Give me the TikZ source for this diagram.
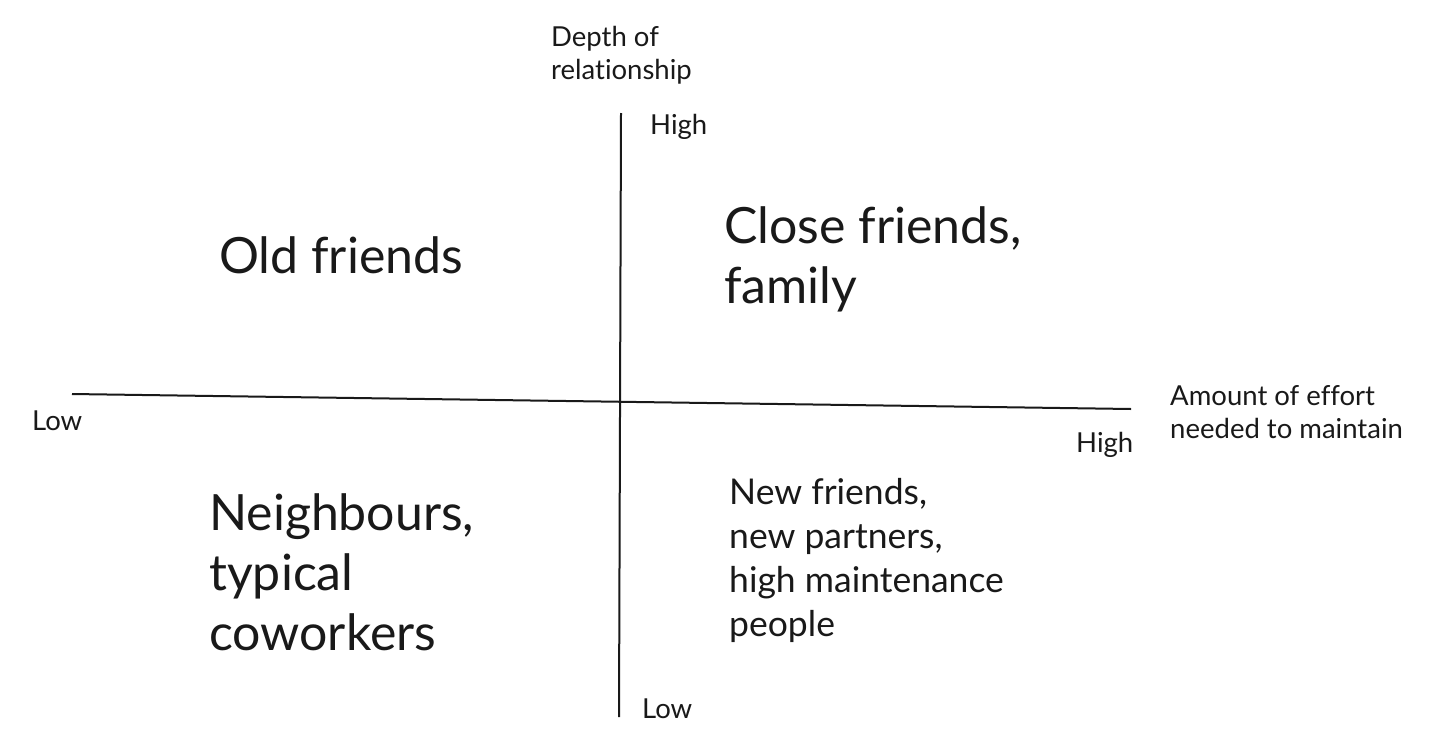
\documentclass[tikz,border=0pt]{standalone}
\usepackage{fontspec}
\setmainfont{Lato}[Ligatures={NoCommon,NoRare}]
\begin{document}
\begin{tikzpicture}[x=1pt,y=-1pt,
  axis/.style={line width=2pt,black!90},
  small/.style={font=\fontsize{27.5}{33}\selectfont,anchor=base west,inner sep=0pt,align=left,text=black!90},
  mid/.style={font=\fontsize{35.5}{43.7}\selectfont,anchor=base west,inner sep=0pt,align=left,text=black!90},
  big/.style={font=\fontsize{50}{60}\selectfont,anchor=base west,inner sep=0pt,align=left,text=black!90}]
\useasboundingbox[fill=white] (0,0) rectangle (1456,755);
\coordinate (hl) at (72,394);
\coordinate (hr) at (1131,409);
\coordinate (vt) at (621,113);
\coordinate (vb) at (619,717);
\draw[axis] (hl) -- (hr);
\draw[axis] (vt) -- (vb);
% multi-line nodes: base anchor is at the last line's baseline
\node[small] (ytitle) at (551,79) {Depth of\\relationship};
\node[small] (yhigh) at (650,134) {High};
\node[small] (ylow) at (642,718) {Low};
\node[small] (xlow) at (32,430) {Low};
\node[small] (xhigh) at (1076,452) {High};
\node[small] (xtitle) at (1170,438) {Amount of effort\\needed to maintain};
\node[big] (q2) at (219,273) {Old friends};
\node[big] (q1) at (724,303) {Close friends,\\family};
\node[big] (q3) at (209,650) {Neighbours,\\typical\\coworkers};
\node[mid] (q4) at (729,636) {New friends,\\new partners,\\high maintenance\\people};
\end{tikzpicture}
\end{document}
